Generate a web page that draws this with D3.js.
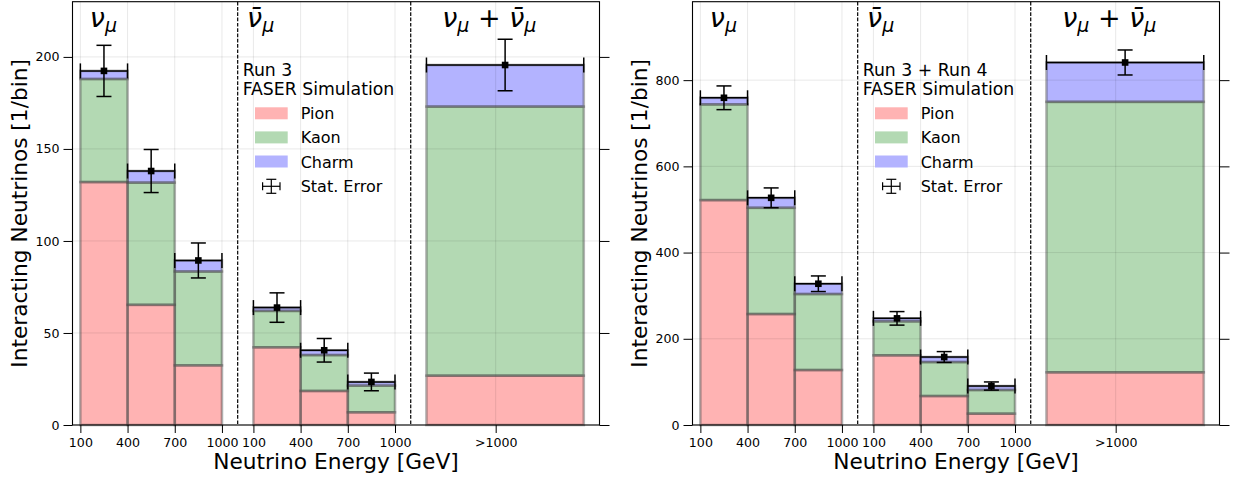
<!DOCTYPE html>
<html>
<head>
<meta charset="utf-8">
<script src="https://cdn.jsdelivr.net/npm/d3@7"></script>
<style>
  html, body { margin: 0; padding: 0; background: #fff; }
  svg { display: block; }
  text { font-family: "DejaVu Sans", sans-serif; fill: #000; }
</style>
</head>
<body>
<svg id="chart" width="1233" height="481"></svg>
<script>
// ---------------- data ----------------
// bin edges in the plotting coordinate (three groups laid side by side)
const binLeft  = [100, 400, 700, 1200, 1500, 1800, 2300];
const binRight = [400, 700, 1000, 1500, 1800, 2100, 3300];
// x ticks (position) and their labels
const xTickVals   = [100, 400, 700, 1000, 1200, 1500, 1800, 2100, 2740];
const xTickLabels = ["100", "400", "700", "1000", "100", "400", "700", "1000", ">1000"];
const groupSeparators = [1100, 2200];
const groupLabelX = [160, 1160, 2400];

// Run 3
const run3Pion  = [132, 65.3, 32.4, 42.2, 18.5, 6.9, 26.8];
const run3Kaon  = [56, 66.4, 51, 19.8, 19.5, 14.5, 146.2];
const run3Charm = [4.4, 6.3, 6, 1.8, 2.6, 2, 22.6];
const run3Err   = [13.9, 11.7, 9.5, 8, 6.4, 4.8, 14];
const run3YTicks = [0, 50, 100, 150, 200];

// Run 3 + Run 4
const run34Pion  = [521.7, 257.4, 127.5, 161.6, 67.2, 26.3, 122.2];
const run34Kaon  = [222, 246.5, 176.3, 78.8, 78.8, 54.9, 627.5];
const run34Charm = [15.4, 23.1, 23.9, 7, 11.7, 9.2, 91.3];
const run34Err   = [27.5, 23, 18.1, 15.7, 12.6, 9.5, 29];
const run34YTicks = [0, 200, 400, 600, 800];

const seriesNames  = ["Pion", "Kaon", "Charm"];
const seriesColors = ["#ffb3b3", "#b3d9b3", "#b3b3ff"];

// ---------------- layout ----------------
const svg = d3.select("#chart");
const TOP = 1.7, BOTTOM = 425, WIDTH = 527;
const FONT_TICK = 12.6, FONT_LABEL = 21.7;

const panels = [
  { x0: 72.5, yMax: 230, yTicks: run3YTicks, data: [run3Pion, run3Kaon, run3Charm], err: run3Err,
    legendTitle: ["Run 3", "FASER Simulation"] },
  { x0: 692.5, yMax: 982, yTicks: run34YTicks, data: [run34Pion, run34Kaon, run34Charm], err: run34Err,
    legendTitle: ["Run 3 + Run 4", "FASER Simulation"] }
];

panels.forEach(p => drawPanel(p));

function drawPanel(p) {
  const g = svg.append("g");
  const x = d3.scaleLinear().domain([50, 3400]).range([p.x0, p.x0 + WIDTH]);
  const y = d3.scaleLinear().domain([0, p.yMax]).range([BOTTOM, TOP]);

  // stacked segments
  const segs = [];
  binLeft.forEach((b, i) => {
    let base = 0;
    p.data.forEach((s, k) => {
      segs.push({ x0: binLeft[i], x1: binRight[i], y0: base, y1: base + s[i], k });
      base += s[i];
    });
  });

  // fills
  g.append("g").selectAll("rect").data(segs).join("rect")
    .attr("x", d => x(d.x0)).attr("width", d => x(d.x1) - x(d.x0))
    .attr("y", d => y(d.y1)).attr("height", d => y(d.y0) - y(d.y1))
    .attr("fill", d => seriesColors[d.k]);

  // grid
  const grid = g.append("g").attr("stroke", "#000").attr("stroke-opacity", 0.09).attr("stroke-width", 1);
  grid.selectAll("line.gx").data(xTickVals).join("line").attr("class", "gx")
    .attr("x1", d => x(d)).attr("x2", d => x(d)).attr("y1", TOP).attr("y2", BOTTOM);
  grid.selectAll("line.gy").data(p.yTicks).join("line").attr("class", "gy")
    .attr("x1", p.x0).attr("x2", p.x0 + WIDTH).attr("y1", d => y(d)).attr("y2", d => y(d));

  // segment edges (semi-transparent gray, darker where they overlap)
  g.append("g").selectAll("rect").data(segs).join("rect")
    .attr("x", d => x(d.x0)).attr("width", d => x(d.x1) - x(d.x0))
    .attr("y", d => y(d.y1)).attr("height", d => y(d.y0) - y(d.y1))
    .attr("fill", "none").attr("stroke", "#444").attr("stroke-opacity", 0.4).attr("stroke-width", 2.6);

  // separators
  g.append("g").selectAll("line").data(groupSeparators).join("line")
    .attr("x1", d => x(d)).attr("x2", d => x(d)).attr("y1", TOP).attr("y2", BOTTOM)
    .attr("stroke", "#000").attr("stroke-width", 1.2).attr("stroke-dasharray", "3.7,1.6");

  // error bars
  const totals = binLeft.map((b, i) => p.data[0][i] + p.data[1][i] + p.data[2][i]);
  const eb = g.append("g").attr("stroke", "#000").attr("stroke-width", 1.5);
  binLeft.forEach((b, i) => {
    const cx = x((binLeft[i] + binRight[i]) / 2), cy = y(totals[i]);
    const xl = x(binLeft[i]), xr = x(binRight[i]);
    const yt = y(totals[i] + p.err[i]), yb = y(totals[i] - p.err[i]);
    eb.append("line").attr("x1", xl).attr("x2", xr).attr("y1", cy).attr("y2", cy);
    eb.append("line").attr("x1", xl).attr("x2", xl).attr("y1", cy - 7.5).attr("y2", cy + 7.5);
    eb.append("line").attr("x1", xr).attr("x2", xr).attr("y1", cy - 7.5).attr("y2", cy + 7.5);
    eb.append("line").attr("x1", cx).attr("x2", cx).attr("y1", yt).attr("y2", yb);
    eb.append("line").attr("x1", cx - 7.5).attr("x2", cx + 7.5).attr("y1", yt).attr("y2", yt);
    eb.append("line").attr("x1", cx - 7.5).attr("x2", cx + 7.5).attr("y1", yb).attr("y2", yb);
    g.append("rect").attr("x", cx - 3.3).attr("y", cy - 3.3).attr("width", 6.6).attr("height", 6.6).attr("fill", "#000");
  });

  // axes
  const xAxis = d3.axisBottom(x).tickValues(xTickVals).tickFormat((d, i) => xTickLabels[i])
    .tickSize(8).tickSizeOuter(0).tickPadding(5.5);
  const ax = g.append("g").attr("transform", `translate(0,${BOTTOM})`).call(xAxis);
  ax.select(".domain").remove();
  ax.selectAll("line").attr("stroke", "#000").attr("stroke-width", 1);
  ax.selectAll("text").attr("font-size", FONT_TICK).attr("font-family", "DejaVu Sans");

  const yAxis = d3.axisLeft(y).tickValues(p.yTicks).tickFormat(d3.format("d"))
    .tickSize(9).tickSizeOuter(0).tickPadding(4);
  const ay = g.append("g").attr("transform", `translate(${p.x0},0)`).call(yAxis);
  ay.select(".domain").remove();
  ay.selectAll("line").attr("stroke", "#000").attr("stroke-width", 1);
  ay.selectAll("text").attr("font-size", FONT_TICK).attr("font-family", "DejaVu Sans");

  const yAxisR = d3.axisRight(y).tickValues(p.yTicks).tickFormat("").tickSize(10).tickSizeOuter(0);
  const ayr = g.append("g").attr("transform", `translate(${p.x0 + WIDTH},0)`).call(yAxisR);
  ayr.select(".domain").remove();
  ayr.selectAll("line").attr("stroke", "#000").attr("stroke-width", 1);

  // spines
  g.append("rect").attr("x", p.x0).attr("y", TOP).attr("width", WIDTH).attr("height", BOTTOM - TOP)
    .attr("fill", "none").attr("stroke", "#000").attr("stroke-width", 1.1);

  // axis labels
  g.append("text").attr("x", p.x0 + WIDTH / 2).attr("y", 469).attr("text-anchor", "middle")
    .attr("font-size", FONT_LABEL).text("Neutrino Energy [GeV]");
  g.append("text").attr("transform", `translate(${p.x0 - 45.5},${(TOP + BOTTOM) / 2}) rotate(-90)`)
    .attr("text-anchor", "middle").attr("font-size", FONT_LABEL).text("Interacting Neutrinos [1/bin]");

  // group labels (math style)
  const GL = 27, GS = 19, LY = 27;
  const t1 = g.append("text").attr("x", x(groupLabelX[0])).attr("y", LY).attr("font-size", GL);
  t1.append("tspan").attr("font-style", "oblique").text("ν");
  t1.append("tspan").attr("font-style", "oblique").attr("font-size", GS).attr("dy", 4.5).text("μ");

  const t2 = g.append("text").attr("x", x(groupLabelX[1])).attr("y", LY).attr("font-size", GL);
  t2.append("tspan").attr("font-style", "oblique").text("ν\u0304");
  t2.append("tspan").attr("font-style", "oblique").attr("font-size", GS).attr("dy", 4.5).text("μ");

  const t3 = g.append("text").attr("x", x(groupLabelX[2])).attr("y", LY).attr("font-size", GL);
  t3.append("tspan").attr("font-style", "oblique").text("ν");
  t3.append("tspan").attr("font-style", "oblique").attr("font-size", GS).attr("dy", 4.5).text("μ");
  t3.append("tspan").attr("dy", -4.5).text(" + ");
  t3.append("tspan").attr("font-style", "oblique").text("ν\u0304");
  t3.append("tspan").attr("font-style", "oblique").attr("font-size", GS).attr("dy", 4.5).text("μ");

  // legend
  const lg = g.append("g");
  lg.selectAll("text.title").data(p.legendTitle).join("text").attr("class", "title")
    .attr("x", p.x0 + 170.2).attr("y", (d, i) => 76 + i * 19).attr("font-size", 17.3).text(d => d);
  const entryY = [119.3, 143.4, 167.5, 191.6];
  seriesNames.forEach((n, i) => {
    lg.append("rect").attr("x", p.x0 + 182.5).attr("y", entryY[i] - 12).attr("width", 32.7).attr("height", 12)
      .attr("fill", seriesColors[i]);
    lg.append("text").attr("x", p.x0 + 228.2).attr("y", entryY[i]).attr("font-size", 16).text(n);
  });
  const ecx = p.x0 + 198.8, ecy = 186.3;
  const le = lg.append("g").attr("stroke", "#000").attr("stroke-width", 1.2);
  le.append("line").attr("x1", ecx - 8.7).attr("x2", ecx + 8.7).attr("y1", ecy).attr("y2", ecy);
  le.append("line").attr("x1", ecx - 8.7).attr("x2", ecx - 8.7).attr("y1", ecy - 4).attr("y2", ecy + 4);
  le.append("line").attr("x1", ecx + 8.7).attr("x2", ecx + 8.7).attr("y1", ecy - 4).attr("y2", ecy + 4);
  le.append("line").attr("x1", ecx).attr("x2", ecx).attr("y1", ecy - 7).attr("y2", ecy + 7);
  le.append("line").attr("x1", ecx - 5).attr("x2", ecx + 5).attr("y1", ecy - 7).attr("y2", ecy - 7);
  le.append("line").attr("x1", ecx - 5).attr("x2", ecx + 5).attr("y1", ecy + 7).attr("y2", ecy + 7);
  lg.append("text").attr("x", p.x0 + 228.2).attr("y", entryY[3]).attr("font-size", 16).text("Stat. Error");
}
</script>
</body>
</html>
